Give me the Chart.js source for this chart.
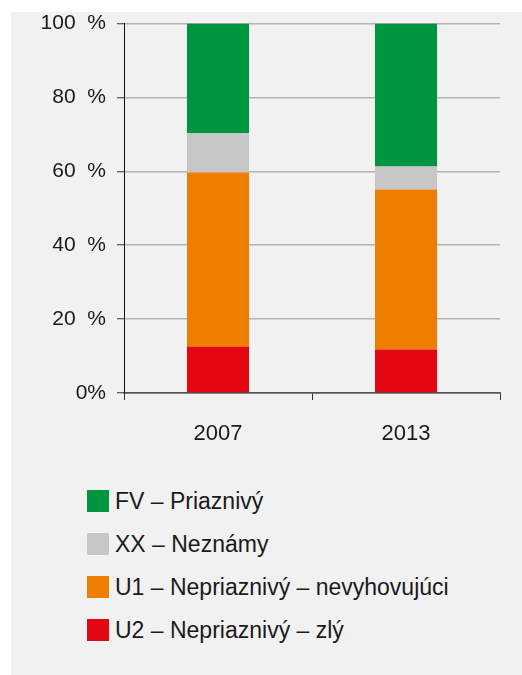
<!DOCTYPE html>
<html>
<head>
<meta charset="utf-8">
<script src="https://cdn.jsdelivr.net/npm/chart.js@4"></script>
<style>
	body { margin: 0; background: #fff; font-family: 'Liberation Sans', Arial, sans-serif; }
	#wrap { position: relative; width: 522px; height: 675px; overflow: hidden; }
	#panel { position: absolute; left: 11px; top: 12px; width: 511px; height: 663px; background: #f1f1f1; }
	#chartBox { position: absolute; left: 0; top: 0; width: 522px; height: 460px; }
	#legend { position: absolute; left: 87px; top: 490px; }
	.item { display: flex; align-items: center; height: 22px; margin-bottom: 21px; font-size: 23px; color: #1a1a1a; white-space: pre; }
	.box { width: 22px; height: 22px; margin-right: 6px; flex: none; }
</style>
</head>
<body>
<div id="wrap">
	<div id="panel"></div>
	<div id="chartBox"><canvas id="chart" width="522" height="460"></canvas></div>
	<div id="legend"></div>
</div>
<script>
const years = ['2007', '2013']
const yTickLabels = { 0: '0%', 20: '20  %', 40: '40  %', 60: '60  %', 80: '80  %', 100: '100  %' }

// stack order, bottom to top
const seriesNames = ['U2 – Nepriaznivý – zlý', 'U1 – Nepriaznivý – nevyhovujúci', 'XX – Neznámy', 'FV – Priaznivý']
const seriesColors = ['#e30613', '#ef7d00', '#c6c7c6', '#009640']
const u2 = [12.6, 11.8]
const u1 = [47.1, 43.3]
const xx = [10.7, 6.2]
const fv = [29.6, 38.7]
const seriesValues = [u2, u1, xx, fv]

const font = { family: "'Liberation Sans', Arial, sans-serif", size: 21 }

const chart = new Chart(document.getElementById('chart'), {
	type: 'bar',
	data: {
		labels: years,
		datasets: seriesNames.map((name, i) => ({
			label: name,
			data: seriesValues[i],
			backgroundColor: seriesColors[i],
			borderWidth: 0,
			barPercentage: 0.33,
			categoryPercentage: 1,
		})),
	},
	options: {
		responsive: false,
		animation: false,
		layout: { padding: { top: 21, right: 22, left: 0, bottom: 0 } },
		plugins: { legend: { display: false }, tooltip: { enabled: false } },
		scales: {
			x: {
				stacked: true,
				grid: { offset: true, drawOnChartArea: false, drawTicks: true, tickLength: 7, tickColor: '#333', tickWidth: 1 },
				border: { color: '#555', width: 1.5 },
				ticks: { color: '#1a1a1a', font: { ...font, size: 22 }, padding: 21 },
				afterFit: (s) => { s.height = 67 },
			},
			y: {
				stacked: true,
				min: 0,
				max: 100,
				grid: {
					color: (c) => (c.tick && c.tick.value === 0 ? '#666' : '#b4b4b4'),
					lineWidth: 1.5,
					tickLength: 7,
					tickColor: '#333',
					tickWidth: 1,
				},
				border: { color: '#111', width: 1 },
				ticks: {
					stepSize: 20,
					color: '#1a1a1a',
					font: font,
					padding: 11,
					callback: (v) => yTickLabels[v],
				},
				afterFit: (s) => { s.width = 124 },
			},
		},
	},
})

// legend, top to bottom reverse of the stack
const legendEl = document.getElementById('legend')
chart.data.datasets.slice().reverse().forEach((ds) => {
	legendEl.innerHTML += `<div class="item"><span class="box" style="background:${ds.backgroundColor}"></span>${ds.label}</div>`
})
</script>
</body>
</html>
